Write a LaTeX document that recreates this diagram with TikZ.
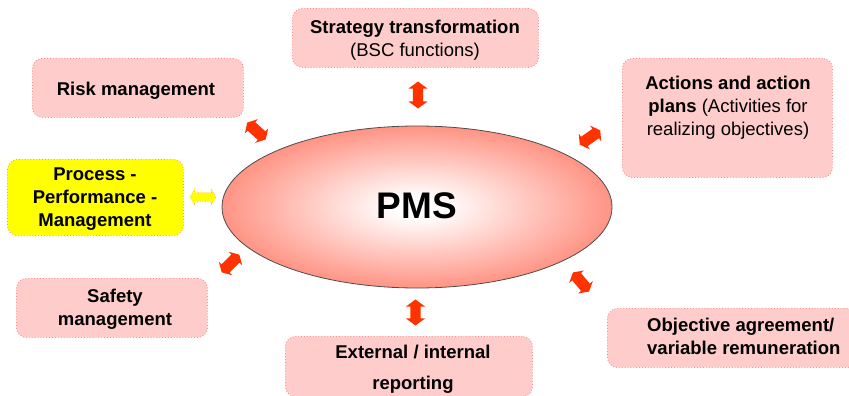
\documentclass[tikz,border=0pt]{standalone}
\usepackage{fontspec}
\setmainfont{Liberation Sans}
\usetikzlibrary{shapes.geometric,shapes.arrows}
\definecolor{boxfill}{HTML}{FFCCCC}
\definecolor{boxline}{HTML}{FF8C8C}
\definecolor{arrred}{HTML}{FF3300}
\definecolor{salm}{HTML}{FF806E}
\definecolor{ylw}{HTML}{FFFF00}
\definecolor{ylwline}{HTML}{FF9966}
\pgfdeclareradialshading{pmsshade}{\pgfpoint{0bp}{0bp}}{color(0bp)=(white);color(3bp)=(white);color(29bp)=(salm);color(50bp)=(salm)}
\begin{document}
\begin{tikzpicture}[x=1pt,y=-1pt,
  box/.style={draw=boxline, dotted, line width=0.9pt, fill=boxfill, rounded corners=10pt, anchor=north west, inner sep=0pt},
  ybox/.style={box, draw=ylwline, fill=ylw},
  txt/.style={font=\fontsize{18.5}{23}\selectfont, align=center, inner sep=0pt, yshift=-1.5pt},
  bigarr/.style={shape=double arrow, fill=arrred, draw=none, inner sep=5pt, minimum width=0pt, double arrow head extend=4.5pt, double arrow tip angle=107, anchor=center},
  smallarr/.style={shape=double arrow, fill=arrred, draw=none, inner sep=5.5pt, minimum width=0pt, double arrow head extend=4pt, double arrow tip angle=120, anchor=center},
]
\useasboundingbox (0,0) rectangle (849,396);

% boxes
\node[box, minimum width=246pt, minimum height=59pt] (strat) at (292,8) {};
\node[box, minimum width=211pt, minimum height=59pt] (risk) at (32,58) {};
\node[ybox, minimum width=176pt, minimum height=76pt] (proc) at (7,159) {};
\node[box, minimum width=210pt, minimum height=119pt] (act) at (622,58) {};
\node[box, minimum width=191pt, minimum height=59pt] (safe) at (16,278) {};
\node[box, minimum width=247pt, minimum height=60pt] (ext) at (285,336) {};
\node[box, minimum width=250pt, minimum height=59pt] (obj) at (607,308) {};

% texts
\node[txt] (strattxt) at (415,39) {\textbf{Strategy transformation}\\(BSC functions)};
\node[txt] (risktxt) at (136,89) {\textbf{Risk management}};
\node[txt] (proctxt) at (95,198) {\textbf{Process -}\\\textbf{Performance -}\\\textbf{Management}};
\node[txt] (acttxt) at (728,106) {\textbf{Actions and action}\\\textbf{plans} (Activities for\\realizing objectives)};
\node[txt] (safetxt) at (115,308) {\textbf{Safety}\\\textbf{management}};
\node[txt] (exttxt) at (413,367.5) {\textbf{External / internal}\\[8pt]\textbf{reporting}};
\node[txt, align=left, anchor=west] (objtxt) at (647,335) {\textbf{Objective agreement/}\\\textbf{variable remuneration}};

% central ellipse
\node[ellipse, draw=black!70, line width=0.8pt, shading=pmsshade, minimum width=390pt, minimum height=162pt, inner sep=0pt] (pms) at (417,207) {};
\node[inner sep=0pt, font=\fontsize{37}{40}\selectfont\bfseries] (pmstxt) at (417,206) {PMS};

% double arrows
\node[bigarr, minimum height=27pt, rotate=90] (a1) at (418,95) {};
\node[smallarr, minimum height=25pt, rotate=-42] (a2) at (256.5,131) {};
\node[smallarr, minimum height=25pt, rotate=35] (a3) at (590,137.5) {};
\node[smallarr, inner sep=4pt, minimum height=26pt, fill=ylw, draw=ylwline, dotted, line width=0.6pt] (a4) at (203,197) {};
\node[smallarr, minimum height=25pt, rotate=45] (a5) at (230.5,263.5) {};
\node[bigarr, minimum height=26pt, rotate=90] (a6) at (415.5,312.5) {};
\node[smallarr, minimum height=25pt, rotate=-50] (a7) at (581,282) {};
\end{tikzpicture}
\end{document}
